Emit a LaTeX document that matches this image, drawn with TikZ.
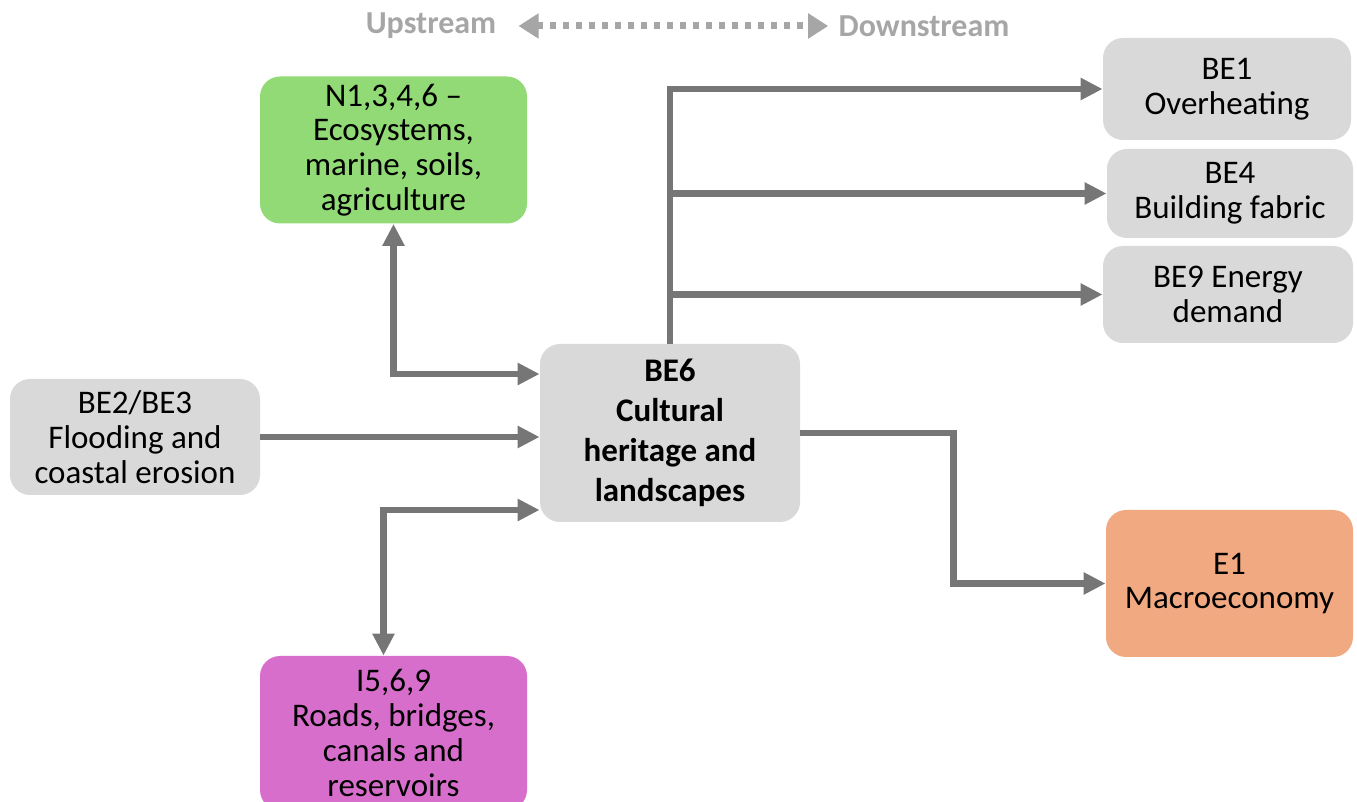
\documentclass[tikz,border=0pt]{standalone}
\usepackage{fontspec}
\setmainfont{Carlito}
\usetikzlibrary{arrows.meta}

\definecolor{boxgray}{HTML}{D9D9D9}
\definecolor{natgreen}{RGB}{146,218,118}
\definecolor{infmagenta}{HTML}{D86ECC}
\definecolor{ecosalmon}{HTML}{F1A982}
\definecolor{linkgray}{HTML}{767676}
\definecolor{headgray}{HTML}{A6A6A6}

\begin{document}
\begin{tikzpicture}[x=0.5pt,y=-0.5pt,
  box/.style={fill=boxgray, rounded corners=10pt, align=center, inner sep=0pt,
              font=\fontsize{16.5}{17.4}\selectfont},
  tip/.tip={Triangle[length=11pt,width=10.5pt]},
  link/.style={draw=linkgray, line width=3.25pt, -tip},
  both/.style={link, tip-tip},
  head/.style={text=headgray, inner sep=0pt, font=\fontsize{16}{18}\selectfont\bfseries},
  flow/.style={draw=headgray, line width=3.5pt, dash pattern=on 3pt off 3.5pt,
               {Triangle[length=10pt,width=12pt,sep=-1pt]}-{Triangle[length=10pt,width=12pt,sep=-1pt]}}]
\useasboundingbox (0,0) rectangle (1357,802);
\clip (0,0) rectangle (1357,802);

\node[head] (up)   at (431,26) {Upstream};
\node[head] (down) at (924,26) {Downstream};
\draw[flow] ([xshift=12pt]up.east) -- ([xshift=-6pt]down.west);

\node[box, fill=natgreen,   minimum width=133.5pt, minimum height=73.5pt] (nat) at (393.5,150)   {N1,3,4,6 –\\Ecosystems,\\marine, soils,\\agriculture};
\node[box,                  minimum width=125pt,   minimum height=58pt]   (be2) at (135,437)     {BE2/BE3\\Flooding and\\coastal erosion};
\node[box, font=\fontsize{16.5}{20}\selectfont\bfseries,
                            minimum width=130pt,   minimum height=89pt]   (be6) at (670,433)     {BE6\\Cultural\\heritage and\\landscapes};
\node[box, fill=infmagenta, minimum width=133.5pt, minimum height=77pt]   (inf) at (393.5,733)   {I5,6,9\\Roads, bridges,\\canals and\\reservoirs};
\node[box,                  minimum width=124pt,   minimum height=51pt]   (be1) at (1227,89)     {BE1\\Overheating};
\node[box,                  minimum width=123pt,   minimum height=44.5pt] (be4) at (1230,193.5)  {BE4\\Building fabric};
\node[box,                  minimum width=125pt,   minimum height=48.5pt] (be9) at (1228,294.5)  {BE9 Energy\\demand};
\node[box, fill=ecosalmon,  minimum width=123.5pt, minimum height=73.5pt] (eco) at (1229.5,583.5) {E1\\Macroeconomy};

\draw[link] (be6.north) |- (be1.west);
\draw[link] (be6.north |- be4.west) -- (be4.west);
\draw[link] (be6.north |- be9.west) -- (be9.west);

\draw[both] (nat.south) |- ([yshift=29.5pt]be6.west);
\draw[link] (be2.east) -- (be2.east -| be6.west);
\draw[both] ([yshift=-38.5pt]be6.west) -| ([xshift=-5pt]inf.north);
\draw[link] (be6.east) -- ++(76.5pt,0) |- (eco.west);
\end{tikzpicture}
\end{document}
